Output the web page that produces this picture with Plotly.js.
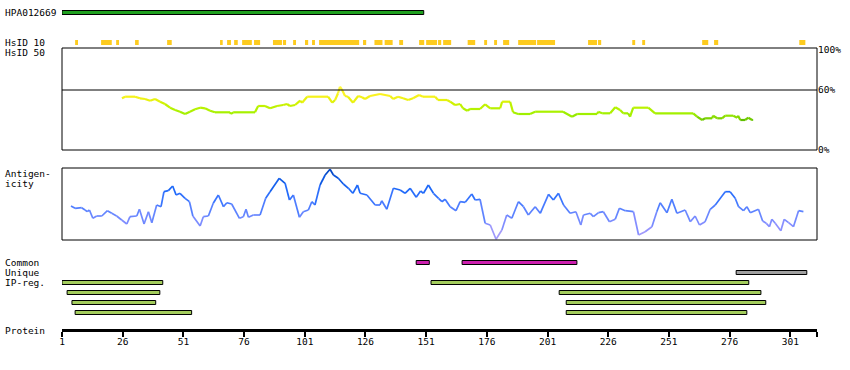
<!DOCTYPE html>
<html><head><meta charset="utf-8">
<script src="https://cdn.plot.ly/plotly-3.0.1.min.js"></script>
<style>html,body{margin:0;padding:0;background:#fff}#chart{width:850px;height:370px}</style>
</head><body><div id="chart"></div>
<script>
// ---------------- data ----------------
const antibodyName = 'HPA012669';
const proteinLength = 312;
const hpaStart = [1];
const hpaEnd = [150];

const hsid10Start = [6.4,17.1,23.3,31.1,44.3,66.1,69.0,71.9,75.2,80.1,87.9,92.0,96.2,101.1,104.0,106.9,125.0,129.7,133.9,139.9,148.1,151.0,155.9,158.0,168.1,174.9,179.0,182.7,188.9,196.7,217.7,221.8,235.9,240.0,264.7,269.6,304.7];
const hsid10End   = [7.6,21.5,24.5,32.6,46.2,67.2,70.6,73.4,79.2,82.6,91.6,93.3,97.4,102.4,105.2,123.4,126.3,133.0,137.2,141.5,150.2,155.5,157.2,161.3,171.2,176.1,180.2,185.2,196.3,204.1,221.4,223.1,237.1,241.2,267.2,271.3,307.2];

const hsid50Res = [25.7,27.0,31.1,33.1,35.2,37.3,39.3,41.4,43.4,45.5,47.6,49.6,51.7,53.7,55.8,57.9,59.9,62.0,64.0,70.2,70.6,71.5,80.5,81.8,84.6,86.7,89.6,92.1,93.7,94.9,97.0,99.1,99.9,102.0,110.6,112.3,113.5,114.7,115.5,116.4,117.6,118.8,120.9,123.0,124.6,125.8,127.9,132.0,136.2,137.4,139.4,141.5,143.6,145.6,148.1,149.7,154.7,155.9,159.6,160.9,162.9,165.0,166.2,167.9,169.1,173.2,175.3,177.4,181.5,182.3,185.6,186.8,188.9,193.8,195.9,207.4,211.1,213.2,221.4,221.9,223.5,226.8,228.9,230.9,232.2,234.2,235.0,236.3,242.5,245.3,261.0,262.6,264.7,265.9,268.8,269.2,270.9,272.9,274.2,277.5,279.1,279.5,280.4,282.4,283.7,285.3,285.7];
const hsid50Val = [51.7,53.3,53.3,51.7,51.0,49.3,51.0,48.3,46.0,42.3,40.0,38.3,36.0,38.3,40.7,42.3,41.7,39.3,37.7,37.7,36.0,37.7,37.7,44.0,44.0,41.7,44.0,45.0,46.0,44.0,45.0,49.3,47.3,53.3,53.3,47.3,50.0,56.7,63.3,60.0,54.0,53.3,47.3,54.0,52.7,51.0,54.0,56.0,54.0,51.0,53.3,51.7,50.0,51.7,55.0,53.3,53.3,50.0,50.0,48.3,45.0,46.0,41.7,39.3,41.0,41.0,45.7,41.7,41.7,48.3,48.3,37.7,36.0,36.0,38.3,38.3,33.3,36.0,36.0,38.3,36.7,36.7,42.7,40.0,36.7,36.7,33.3,42.3,42.3,36.7,36.7,33.3,30.0,31.7,31.7,34.3,31.7,31.7,34.3,34.3,32.3,34.3,30.0,30.0,32.3,30.0,30.0];

const antigRes = [4.7,6.4,9.1,10.5,11.4,12.3,13.7,15.3,17.4,19.7,21.5,23.5,25.6,27.7,29.0,31.8,32.9,34.8,36.6,38.0,40.0,41.8,43.0,44.8,46.6,48.0,49.6,51.7,53.5,54.9,57.9,59.2,61.3,63.3,65.4,67.5,68.9,70.9,74.1,75.7,76.8,77.8,79.8,82.6,84.9,86.7,90.5,92.9,94.7,96.3,98.8,100.4,102.5,103.9,105.2,107.3,109.4,111.4,112.8,114.8,116.9,119.0,120.8,122.7,123.8,126.6,130.0,132.0,132.7,134.8,137.5,140.3,142.3,144.4,146.9,148.7,149.9,151.9,154.0,156.1,157.5,158.8,160.9,163.3,165.0,167.1,169.8,171.2,173.2,175.3,177.4,179.8,182.2,184.2,186.3,189.0,191.1,193.1,195.9,198.0,201.4,203.4,205.5,207.6,210.3,212.7,214.7,215.8,218.6,219.9,222.0,224.0,226.5,228.9,230.6,233.0,236.4,238.5,241.2,244.0,246.0,247.4,250.2,252.2,254.3,257.7,259.8,261.8,263.6,265.9,268.0,270.1,274.2,276.2,278.3,279.7,281.7,283.1,284.5,287.9,289.6,291.1,292.4,293.4,294.8,297.1,298.5,300.3,302.3,304.4,306.4];
const antigVal = [34.0,31.7,32.3,30.0,28.3,30.0,21.7,24.0,24.0,29.3,26.7,24.0,20.0,16.0,23.3,24.0,30.7,16.0,28.3,17.3,35.0,33.3,48.3,49.3,54.0,45.0,46.7,41.7,38.3,24.0,14.0,23.3,24.0,36.7,45.0,33.3,37.3,36.0,21.7,23.3,30.7,22.7,25.0,25.0,41.7,48.3,61.7,56.7,40.0,45.0,22.7,28.3,30.0,38.3,35.0,55.0,65.0,70.7,65.0,61.7,56.0,51.7,46.7,55.0,46.7,45.0,35.0,35.0,39.3,30.7,51.7,50.0,46.7,51.7,42.7,49.0,46.7,55.0,46.7,41.7,38.3,40.7,33.3,29.3,38.3,37.7,46.0,40.0,40.7,16.7,15.0,0.7,10.0,25.0,21.7,38.3,33.3,25.0,33.3,26.7,45.7,40.0,46.7,35.0,26.7,28.3,15.0,25.0,26.7,23.3,27.3,28.3,18.3,20.7,31.7,29.3,28.3,5.0,8.3,13.3,28.3,37.3,27.3,40.7,26.7,30.0,18.3,24.0,15.0,18.3,30.7,35.0,48.3,48.3,41.7,33.3,29.3,33.3,27.3,30.7,19.0,16.7,13.3,20.7,16.7,9.3,20.7,17.3,13.3,29.3,28.3];

const commonStart = [146.9,165.8];
const commonEnd   = [152.3,213.1];
const uniqueStart = [278.7];
const uniqueEnd   = [307.8];
const ipStart = [1.0,153.0,3.1,205.8,5.1,208.7,6.4,208.7];
const ipEnd   = [42.5,283.9,41.3,288.9,39.6,290.9,54.4,283.1];
const ipRow   = [0,0,1,1,2,2,3,3];

const tickVals = [1,26,51,76,101,126,151,176,201,226,251,276,301,312];
const tickText = ['1','26','51','76','101','126','151','176','201','226','251','276','301',''];
const pctTickVals = [0,60,100];
const pctTickText = ['0%','60%','100%'];
const rowLabels = ['Common','Unique','IP-reg.','Protein'];

// ---------------- styling ----------------
const FONT = 'DejaVu Sans Mono, monospace';
const FS = 9.5;

function lerpColor(stops, v){
  if (v <= stops[0][0]) return 'rgb('+stops[0][1].join(',')+')';
  for (let i=1;i<stops.length;i++){
    if (v <= stops[i][0]){
      const a=stops[i-1], b=stops[i];
      const t=(v-a[0])/(b[0]-a[0]);
      const c=a[1].map((x,k)=>Math.round(x+(b[1][k]-x)*t));
      return 'rgb('+c.join(',')+')';
    }
  }
  return 'rgb('+stops[stops.length-1][1].join(',')+')';
}
const hsidStops = [[30,[95,190,0]],[32,[130,215,0]],[36,[160,240,0]],[42,[185,242,0]],[47,[210,242,0]],[51,[238,242,20]],[55,[250,242,30]],[64,[255,250,70]]];
const antStops = [[0,[180,165,245]],[12,[145,145,255]],[25,[105,135,255]],[38,[65,120,255]],[50,[30,105,250]],[62,[10,85,222]],[72,[0,65,185]]];

const traces = [];
traces.push({x:[1],y:[0],xaxis:'x',yaxis:'y',mode:'markers',marker:{opacity:0},hoverinfo:'skip',showlegend:false});
for (let i=0;i<hsid50Res.length-1;i++){
  traces.push({x:[hsid50Res[i],hsid50Res[i+1]],y:[hsid50Val[i],hsid50Val[i+1]],xaxis:'x',yaxis:'y2',mode:'lines',
    line:{color:lerpColor(hsidStops,(hsid50Val[i]+hsid50Val[i+1])/2),width:2.2},hoverinfo:'skip',showlegend:false});
}
for (let i=0;i<antigRes.length-1;i++){
  traces.push({x:[antigRes[i],antigRes[i+1]],y:[antigVal[i],antigVal[i+1]],xaxis:'x',yaxis:'y3',mode:'lines',
    line:{color:lerpColor(antStops,(antigVal[i]+antigVal[i+1])/2),width:1.7},hoverinfo:'skip',showlegend:false});
}

const shapes = [];
function bar(x0,x1,yc,fill,border){
  shapes.push({type:'rect',xref:'x',yref:'y',x0:x0,x1:x1,y0:yc-2,y1:yc+2,fillcolor:fill,
    line:{color:'#000',width:border?1:0},layer:'above'});
}
function plainBar(x0,x1,y0,y1,fill){
  shapes.push({type:'rect',xref:'x',yref:'y',x0:x0,x1:x1,y0:y0,y1:y1,fillcolor:fill,line:{width:0}});
}
hpaStart.forEach((s,i)=>bar(s,hpaEnd[i],12.5,'#1fa01f',true));
hsid10Start.forEach((s,i)=>plainBar(s,hsid10End[i],40,45,'#fdcb1f'));
shapes.push({type:'rect',xref:'paper',yref:'y2 domain',x0:0,x1:1,y0:0,y1:1,line:{color:'#000',width:1},fillcolor:'rgba(0,0,0,0)'});
shapes.push({type:'line',xref:'paper',yref:'y2',x0:0,x1:1,y0:60,y1:60,line:{color:'#000',width:1}});
shapes.push({type:'rect',xref:'paper',yref:'y3 domain',x0:0,x1:1,y0:0,y1:1,line:{color:'#000',width:1},fillcolor:'rgba(0,0,0,0)'});
commonStart.forEach((s,i)=>bar(s,commonEnd[i],262.5,'#cc1fae',true));
uniqueStart.forEach((s,i)=>bar(s,uniqueEnd[i],272.5,'#a0a0a0',true));
ipStart.forEach((s,i)=>bar(s,ipEnd[i],282.5+10*ipRow[i],'#a3cc5c',true));

const annotations = [];
function label(txt,y){
  annotations.push({text:txt,xref:'paper',yref:'y',x:-59/755,y:y,xanchor:'left',yanchor:'middle',showarrow:false,
    font:{family:FONT,size:FS,color:'#000'}});
}
label(antibodyName,12.5);
label('HsID 10',42.5);
label('HsID 50',52.5);
label('Antigen-',173.5);
label('icity',183.5);
label(rowLabels[0],262.5);
label(rowLabels[1],272.5);
label(rowLabels[2],282.5);
label(rowLabels[3],330);

const layout = {
  width:850,height:370,margin:{l:62,r:33,t:0,b:0},
  paper_bgcolor:'#fff',plot_bgcolor:'rgba(0,0,0,0)',showlegend:false,
  xaxis:{range:[1,proteinLength],anchor:'free',position:(370-329.5)/370,showline:true,linewidth:3,linecolor:'#000',
    ticks:'outside',ticklen:5,tickwidth:2,tickcolor:'#000',tickmode:'array',tickvals:tickVals,ticktext:tickText,
    ticklabelstandoff:-3,
    tickfont:{family:FONT,size:FS,color:'#000'},showgrid:false,zeroline:false,fixedrange:true},
  yaxis:{range:[370,0],domain:[0,1],visible:false,fixedrange:true},
  yaxis2:{range:[0,102],domain:[(370-150)/370,(370-48)/370],anchor:'x',side:'right',showgrid:false,zeroline:false,showline:false,
    ticks:'',tickmode:'array',tickvals:pctTickVals,ticktext:pctTickText,tickfont:{family:FONT,size:FS,color:'#000'},fixedrange:true},
  yaxis3:{range:[0,72],domain:[(370-240)/370,(370-168)/370],anchor:'x',visible:false,fixedrange:true},
  shapes:shapes,annotations:annotations
};
Plotly.newPlot('chart',traces,layout,{staticPlot:true,displayModeBar:false});
</script></body></html>
